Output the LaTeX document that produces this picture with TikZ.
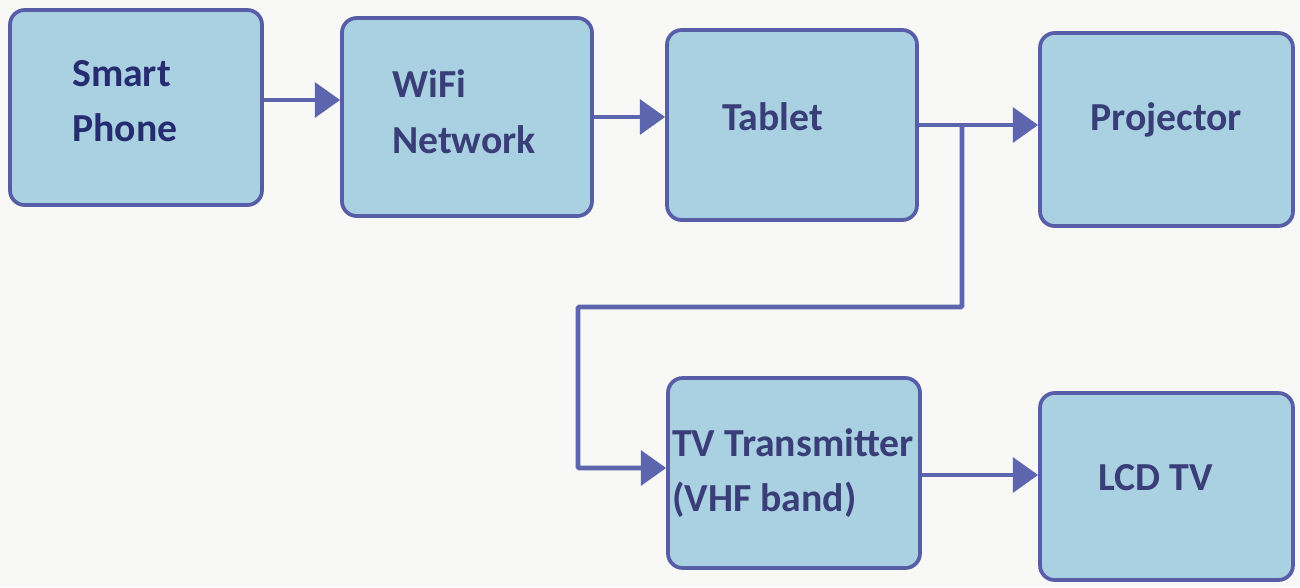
\documentclass[tikz,border=0pt]{standalone}
\usepackage{fontspec}
\setmainfont{Carlito}
\usetikzlibrary{arrows.meta}
\definecolor{boxfill}{HTML}{AAD1E2}
\definecolor{boxedge}{HTML}{575DA6}
\definecolor{wire}{HTML}{5D65AE}
\definecolor{label}{HTML}{3A3E78}
\definecolor{labeldark}{HTML}{262C70}
\definecolor{paper}{HTML}{F8F8F6}

\begin{document}
\begin{tikzpicture}[x=0.75pt,y=-0.75pt,
  block/.style={draw=boxedge, line width=2.8pt, fill=boxfill,
                rounded corners=11pt, inner sep=0pt},
  caption/.style={anchor=base west, inner sep=0pt, text=label,
                  font=\fontsize{29.8}{41}\selectfont\bfseries},
  conn/.style={draw=wire, line width=3.6pt,
               -{Triangle[length=19pt,width=26pt]}}]

% page
\path[fill=paper] (0,0) rectangle (1300,587);

% blocks
\node[block, minimum width=189pt,   minimum height=146.25pt] (sp)   at (136,107.5)  {};
\node[block, minimum width=187.5pt, minimum height=148.5pt]  (wifi) at (467,117)    {};
\node[block, minimum width=187.5pt, minimum height=142.5pt]  (tab)  at (792,125)    {};
\node[block, minimum width=189.75pt,minimum height=144.75pt] (proj) at (1166.5,129.5) {};
\node[block, minimum width=189pt,   minimum height=142.5pt]  (tv)   at (794,473)    {};
\node[block, minimum width=189.75pt,minimum height=140.25pt] (lcd)  at (1166.5,486.5) {};

% labels
\node[caption, text=labeldark] (spA)  at (72,86)   {Smart};
\node[caption, text=labeldark] (spB)  at (72,141)  {Phone};
\node[caption] (wifiA) at (392,97)  {WiFi};
\node[caption] (wifiB) at (392,153) {Network};
\node[caption] (tabA)  at (722,130) {Tablet};
\node[caption] (projA) at (1090,130) {Projector};
\node[caption] (tvA)   at (672,456) {TV Transmitter};
\node[caption] (tvB)   at (672,511) {(VHF band)};
\node[caption] (lcdA)  at (1098,490) {LCD TV};

% connectors
\draw[conn] (sp.east |- 0,100) -- (wifi.west |- 0,100);
\draw[conn] (wifi.east |- 0,117) -- (tab.west |- 0,117);
\coordinate (split) at (962,125);
\coordinate (bendA) at (962,307);
\coordinate (bendB) at (578,307);
\draw[conn] (tab.east |- split) -- (proj.west |- split);
\draw[conn, rounded corners=1pt] (split) -- (bendA) -- (bendB) |- (tv.west |- 0,468);
\draw[conn] (tv.east |- 0,475) -- (lcd.west |- 0,475);

\end{tikzpicture}
\end{document}
